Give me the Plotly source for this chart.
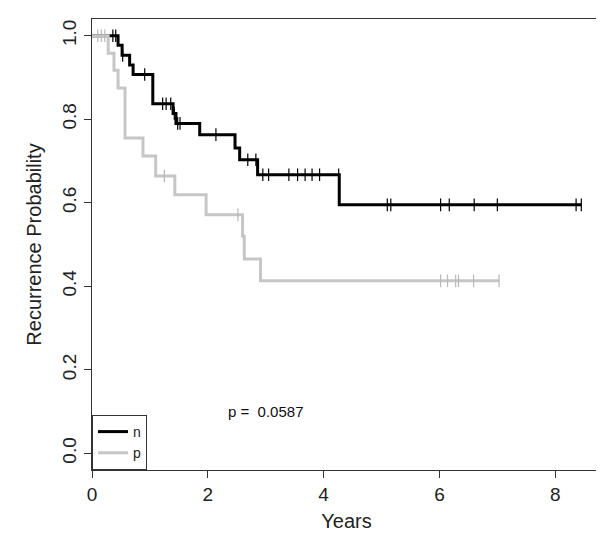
import numpy as np
import plotly.graph_objects as go

# ---- data ----
n_times = [0, 0.45, 0.52, 0.65, 0.71, 1.05, 1.40, 1.45, 1.86, 2.47, 2.55, 2.86, 4.27, 8.45]
n_surv = [1.0, 0.977, 0.953, 0.930, 0.907, 0.837, 0.814, 0.790, 0.763, 0.731, 0.703, 0.667, 0.595, 0.595]
n_censor = [0.36, 0.41, 0.53, 0.91, 1.22, 1.28, 1.36, 1.42, 1.48, 1.52, 2.14, 2.69, 2.83,
            2.95, 3.05, 3.40, 3.55, 3.68, 3.80, 3.93, 4.26, 5.10, 5.16, 6.02, 6.17, 6.60,
            7.00, 8.36, 8.45]

p_times = [0, 0.28, 0.38, 0.45, 0.57, 0.88, 1.10, 1.43, 1.97, 2.60, 2.63, 2.91, 7.03]
p_surv = [1.0, 0.958, 0.917, 0.875, 0.755, 0.712, 0.664, 0.619, 0.571, 0.520, 0.465, 0.413, 0.413]
p_censor = [0.10, 0.16, 0.22, 1.25, 2.52, 6.02, 6.14, 6.28, 6.33, 6.59, 7.03]

x_ticks = [0, 2, 4, 6, 8]
y_ticks = [0.0, 0.2, 0.4, 0.6, 0.8, 1.0]
p_label = "p = \u00a00.0587"

BLACK = "#000000"
GREY = "#c6c6c6"
FONT = "Liberation Sans, Arial, sans-serif"


def step_value(times, surv, t):
    idx = np.searchsorted(np.asarray(times), t, side="right") - 1
    return [surv[i] for i in idx]


fig = go.Figure()

for name, times, surv, cens, col, mcol in [
    ("n", n_times, n_surv, n_censor, BLACK, BLACK),
    ("p", p_times, p_surv, p_censor, GREY, "#b8b8b8"),
]:
    fig.add_trace(go.Scatter(
        x=times, y=surv, mode="lines", name=name,
        line=dict(color=col, width=3, shape="hv"),
        hoverinfo="skip",
    ))
    fig.add_trace(go.Scatter(
        x=cens, y=step_value(times, surv, np.asarray(cens)), mode="markers",
        showlegend=False,
        marker=dict(symbol="line-ns", size=9, line=dict(color=mcol, width=1.2)),
        hoverinfo="skip",
    ))

fig.add_annotation(x=3, y=0.1, xref="x", yref="y", text=p_label, showarrow=False,
                   font=dict(family=FONT, size=15, color="#111111"))

axis_common = dict(
    showgrid=False, zeroline=False, showline=True, linecolor="#333333", linewidth=1,
    mirror=True, ticks="outside", ticklen=7, tickcolor="#333333", tickwidth=1,
    tickfont=dict(family=FONT, size=19, color="#222222"),
)

fig.update_layout(
    width=604, height=538,
    margin=dict(l=84, r=11, t=11, b=76),
    paper_bgcolor="white", plot_bgcolor="white",
    font=dict(family=FONT, color="#222222"),
    xaxis=dict(range=[0, 8.79], tickvals=x_ticks, ticktext=[str(v) for v in x_ticks],
               title=dict(text="Years", font=dict(family=FONT, size=20, color="#222222"), standoff=10),
               **axis_common),
    yaxis=dict(range=[-0.04, 1.04], tickvals=y_ticks, ticktext=[f"{v:.1f}" for v in y_ticks],
               tickangle=-90,
               title=dict(text="Recurrence Probability", font=dict(family=FONT, size=20, color="#222222"), standoff=12),
               **axis_common),
    legend=dict(x=0, y=0, xanchor="left", yanchor="bottom", bordercolor="#333333", borderwidth=1,
                bgcolor="white", font=dict(family=FONT, size=14, color="#222222"),
                itemwidth=30, tracegroupgap=0),
    showlegend=True,
)

fig.write_html("out.html")
